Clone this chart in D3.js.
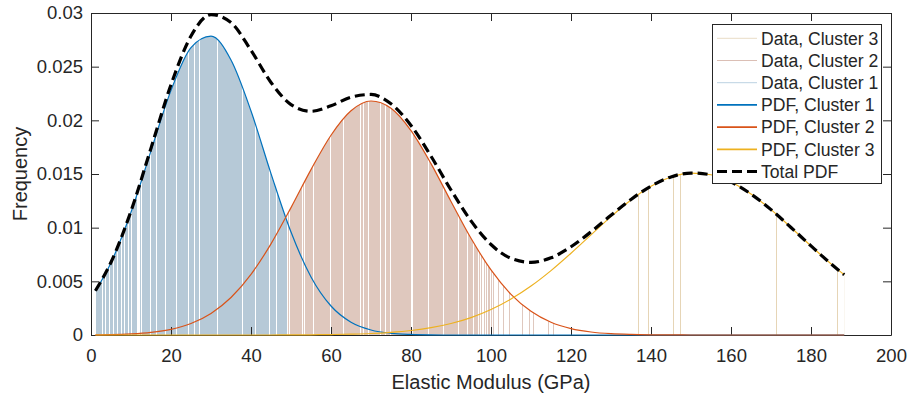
<!DOCTYPE html>
<html>
<head>
<meta charset="utf-8">
<script src="https://cdn.jsdelivr.net/npm/d3@7"></script>
<style>
  body { margin: 0; background: #fff; }
  text { font-family: "Liberation Sans", Arial, Helvetica, sans-serif; fill: #262626; }
</style>
</head>
<body>
<script>
// grid the fitted pdf curves were read at (GPa)
var pdfX = [1.1, 5, 10, 15, 20, 25, 30, 35, 40, 45, 50, 55, 60, 65, 70, 75, 80, 85, 90, 95,
  100, 105, 110, 115, 120, 125, 130, 135, 140, 145, 150, 155, 160, 165, 170, 175, 180, 185, 188.3];

var pdfCluster1 = [0.00410, 0.00674, 0.01143, 0.01716, 0.02279, 0.02678, 0.02784, 0.02562, 0.02087, 0.01504,
  0.00959, 0.00541, 0.00270, 0.00119, 0.00047, 0.00016, 0.00005, 0.00001, 0, 0,
  0, 0, 0, 0, 0, 0, 0, 0, 0, 0, 0, 0, 0, 0, 0, 0, 0, 0, 0];

var pdfCluster2 = [0.00002, 0.00004, 0.00011, 0.00025, 0.00053, 0.00107, 0.00201, 0.00349, 0.00565, 0.00849,
  0.01187, 0.01541, 0.01861, 0.02089, 0.02180, 0.02113, 0.01905, 0.01597, 0.01244, 0.00901,
  0.00606, 0.00379, 0.00221, 0.00119, 0.00060, 0.00028, 0.00012, 0.00005, 0.00002, 0.00001,
  0, 0, 0, 0, 0, 0, 0, 0, 0];

var pdfCluster3 = [0, 0, 0, 0, 0, 0, 0, 0, 0, 0,
  0.00001, 0.00002, 0.00004, 0.00008, 0.00014, 0.00025, 0.00042, 0.00068, 0.00107, 0.00162,
  0.00237, 0.00335, 0.00456, 0.00600, 0.00762, 0.00933, 0.01103, 0.01258, 0.01385, 0.01472,
  0.01509, 0.01493, 0.01425, 0.01313, 0.01168, 0.01002, 0.00830, 0.00663, 0.00561];

// measured moduli of each cluster (GPa)
var dataCluster1 = [1.25,1.5,1.75,2,2.25,2.5,3,3.25,3.75,4,4.25,4.75,5,5.25,5.75,6,6.25,6.75,7,7.25,7.75,8,
  8.5,8.75,9,9.5,9.75,10.25,10.5,10.75,11,11.25,12.25,12.75,13,13.25,13.5,13.75,14,14.25,14.5,15,15.25,15.5,
  15.75,16,16.5,16.75,17,17.25,17.5,17.75,18,18.25,18.75,19,19.25,19.5,19.75,20,20.25,20.5,20.75,21,21.5,
  21.75,22,22.25,22.5,22.75,23,23.25,23.5,23.75,24,24.5,24.75,25,25.25,25.5,26,26.25,26.5,26.75,27.25,27.5,
  27.75,28,28.25,28.5,28.75,29,29.25,29.5,29.75,30,30.25,30.5,30.75,31,31.25,31.75,32,32.25,32.5,32.75,33,
  33.25,33.5,33.75,34,34.25,34.5,34.75,35,35.25,35.5,35.75,36,36.25,36.5,36.75,37,37.25,37.5,38,38.25,38.5,
  38.75,39,39.25,39.5,39.75,40,40.25,40.5,40.75,41.25,41.5,41.75,42,42.25,42.5,42.75,43,43.25,43.5,43.75,
  44,44.25,44.75,45,45.25,45.5,45.75,46,46.5,46.75,47,47.25,47.5,47.75,48,48.25,48.5,48.75];

var dataCluster2 = [49.25,49.75,50,50.25,50.5,50.75,51,51.25,51.5,51.75,52,52.25,52.5,53,53.5,53.75,54,54.25,
  54.5,54.75,55,55.25,55.75,56,56.25,56.5,56.75,57,57.25,57.5,57.75,58,58.25,58.5,58.75,59,59.25,59.5,60,
  60.25,60.5,60.75,61,61.25,61.5,61.75,62,62.25,62.5,62.75,63.25,63.5,63.75,64,64.25,64.5,64.75,65,65.25,
  65.5,65.75,66,66.25,66.5,66.75,67,67.5,67.75,68.25,68.5,68.75,69,69.5,69.75,70,70.25,70.5,70.75,71,71.25,
  71.5,71.75,72,72.5,72.75,73,73.25,73.75,74,74.25,74.5,75,75.25,75.5,75.75,76,76.25,76.5,76.75,77,77.25,
  77.5,77.75,78,78.25,78.5,78.75,79,79.25,79.5,79.75,80.5,80.75,81,81.25,81.5,81.75,82,82.25,82.5,82.75,83,
  83.25,83.5,83.75,84,84.5,84.75,85,85.25,85.5,85.75,86,86.25,86.5,86.75,87,87.25,87.5,87.75,88.25,88.5,
  88.75,89,89.25,89.5,89.75,90,90.25,90.5,90.75,91,91.25,91.5,92,92.25,92.5,92.75,93,93.25,93.5,93.75,94.25,
  94.5,94.75,95,95.25,95.75,96,96.25,96.5,97,97.5,98.25,98.75,99.25,99.5,100,100.5,101.75,103,104.5,107.75,
  109.5,110.5,114.25,115.5];

var dataCluster3 = [136.8, 139.3, 145.6, 147.4, 171.4, 186.6, 188.3];

var xTicks = [0, 20, 40, 60, 80, 100, 120, 140, 160, 180, 200];
var yTicks = [0, 0.005, 0.01, 0.015, 0.02, 0.025, 0.03];
var yTickLabels = ["0", "0.005", "0.01", "0.015", "0.02", "0.025", "0.03"];

var legendLabels = ["Data, Cluster 3", "Data, Cluster 2", "Data, Cluster 1",
  "PDF, Cluster 1", "PDF, Cluster 2", "PDF, Cluster 3", "Total PDF"];

// total pdf is the sum of the three components
var pdfTotal = pdfX.map(function(d, i) { return pdfCluster1[i] + pdfCluster2[i] + pdfCluster3[i]; });

var svg = d3.select("body").append("svg")
  .attr("width", 910)
  .attr("height", 400);

var x = d3.scaleLinear().domain([0, 200]).range([91, 891]);
var y = d3.scaleLinear().domain([0, 0.03]).range([335, 13]);

var line = d3.line()
  .x(function(d) { return x(d[0]); })
  .y(function(d) { return y(d[1]); })
  .curve(d3.curveMonotoneX);
var area = d3.area()
  .x(function(d) { return x(d[0]); })
  .y0(y(0))
  .y1(function(d) { return y(d[1]); })
  .curve(d3.curveMonotoneX);

function pts(vals) { return pdfX.map(function(d, i) { return [d, vals[i]]; }); }

// each cluster's data lines reach up to its own pdf: clip them with the area under it
var defs = svg.append("defs");
[pdfCluster1, pdfCluster2, pdfCluster3].forEach(function(vals, i) {
  defs.append("clipPath").attr("id", "clip" + (i + 1))
    .append("path").attr("d", area(pts(vals)));
});

var stems = [
  {data: dataCluster3, clip: "clip3", color: "#e6d5b6"},
  {data: dataCluster2, clip: "clip2", color: "#dfc8be"},
  {data: dataCluster1, clip: "clip1", color: "#b6c9d7"}
];
stems.forEach(function(s) {
  svg.append("g")
    .attr("clip-path", "url(#" + s.clip + ")")
    .selectAll("line")
    .data(s.data)
    .enter().append("line")
      .attr("x1", function(d) { return x(d); })
      .attr("x2", function(d) { return x(d); })
      .attr("y1", y(0))
      .attr("y2", y(0.03))
      .attr("stroke", s.color)
      .attr("stroke-width", 1)
      .attr("shape-rendering", "crispEdges");
});

// axes, matlab style: inward ticks on all four sides
svg.append("g")
  .attr("transform", "translate(0," + y(0) + ")")
  .call(d3.axisBottom(x).tickValues(xTicks).tickSizeInner(-8).tickSizeOuter(0).tickPadding(14));
svg.append("g")
  .attr("transform", "translate(0," + y(0.03) + ")")
  .call(d3.axisTop(x).tickValues(xTicks).tickSizeInner(-8).tickSizeOuter(0).tickFormat(""));
svg.append("g")
  .attr("transform", "translate(" + x(0) + ",0)")
  .call(d3.axisLeft(y).tickValues(yTicks).tickSizeInner(-8).tickSizeOuter(0).tickPadding(8)
    .tickFormat(function(d, i) { return yTickLabels[i]; }));
svg.append("g")
  .attr("transform", "translate(" + x(200) + ",0)")
  .call(d3.axisRight(y).tickValues(yTicks).tickSizeInner(-8).tickSizeOuter(0).tickFormat(""));

svg.selectAll(".domain, .tick line").attr("stroke", "#262626");
svg.selectAll(".tick text")
  .style("font-size", "18.5px")
  .attr("fill", "#262626");

svg.append("text")
  .attr("x", (x(0) + x(200)) / 2)
  .attr("y", 389)
  .attr("text-anchor", "middle")
  .style("font-size", "20px")
  .text("Elastic Modulus (GPa)");
svg.append("text")
  .attr("transform", "translate(27," + (y(0) + y(0.03)) / 2 + ") rotate(-90)")
  .attr("text-anchor", "middle")
  .style("font-size", "20px")
  .text("Frequency");

// pdf curves
var curves = [
  {vals: pdfCluster1, color: "#0072BD"},
  {vals: pdfCluster2, color: "#D95319"},
  {vals: pdfCluster3, color: "#EDB120"}
];
curves.forEach(function(c) {
  svg.append("path")
    .attr("d", line(pts(c.vals)))
    .attr("fill", "none")
    .attr("stroke", c.color)
    .attr("stroke-width", 1.2);
});
svg.append("path")
  .attr("d", line(pts(pdfTotal)))
  .attr("fill", "none")
  .attr("stroke", "#000")
  .attr("stroke-width", 3.2)
  .attr("stroke-dasharray", "10,5");

// legend
var legendStyles = [
  {color: "#e9dcc6", width: 1},
  {color: "#dbbfb5", width: 1},
  {color: "#bcd2e2", width: 1},
  {color: "#0072BD", width: 1.8},
  {color: "#D95319", width: 1.8},
  {color: "#EDB120", width: 1.8},
  {color: "#000", width: 3.2, dash: "10,5"}
];
var legend = svg.append("g");
legend.append("rect")
  .attr("x", 712.5).attr("y", 24.5)
  .attr("width", 169).attr("height", 159)
  .attr("fill", "#fff")
  .attr("stroke", "#262626")
  .attr("stroke-width", 1);
var rows = legend.selectAll(".row")
  .data(legendLabels)
  .enter().append("g")
    .attr("class", "row")
    .attr("transform", function(d, i) { return "translate(0," + (38.3 + i * 22.2) + ")"; });
rows.append("line")
  .attr("x1", 717).attr("x2", 757)
  .attr("stroke", function(d, i) { return legendStyles[i].color; })
  .attr("stroke-width", function(d, i) { return legendStyles[i].width; })
  .attr("stroke-dasharray", function(d, i) { return legendStyles[i].dash || null; });
rows.append("text")
  .attr("x", 761)
  .attr("dy", "0.36em")
  .style("font-size", "17.6px")
  .text(function(d) { return d; });
</script>
</body>
</html>
